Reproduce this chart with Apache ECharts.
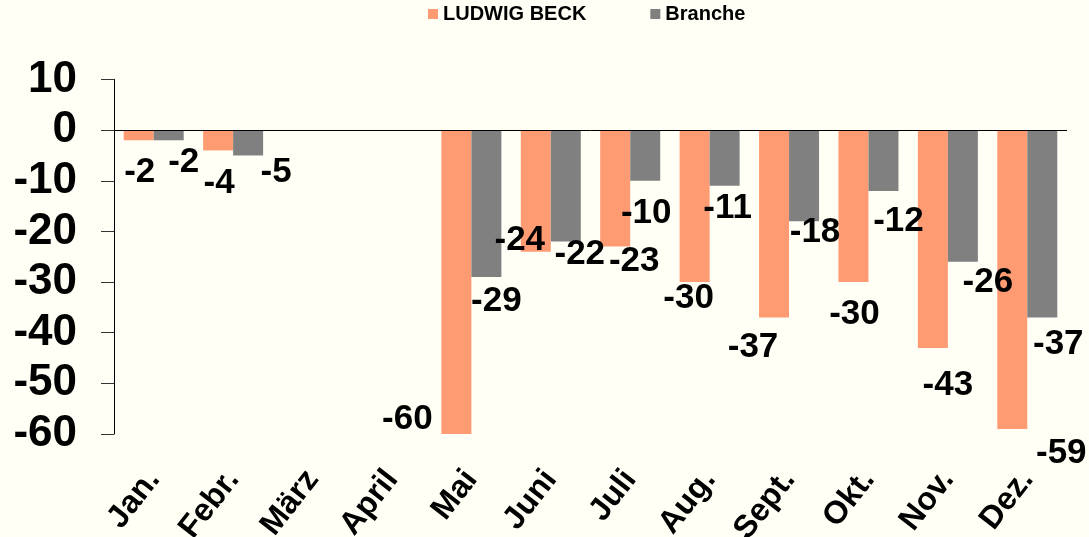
<!DOCTYPE html>
<html>
<head>
<meta charset="utf-8">
<script src="https://cdn.jsdelivr.net/npm/echarts@6/dist/echarts.min.js"></script>
<style>
  html, body { margin: 0; padding: 0; background: #fffff6; }
  #main { width: 1089px; height: 537px; }
</style>
</head>
<body>
<div id="main"></div>
<script>
const months = ['Jan.', 'Febr.', 'März', 'April', 'Mai', 'Juni', 'Juli', 'Aug.', 'Sept.', 'Okt.', 'Nov.', 'Dez.']
const ludwigBeck = [-2, -4, null, null, -60, -24, -23, -30, -37, -30, -43, -59]
const branche = [-2, -5, null, null, -29, -22, -10, -11, -18, -12, -26, -37]
const yMin = -60
const yMax = 10
const yStep = 10

// label nudges (dx, dy from bar end), the labels in the original are placed by hand
const beckNudge = [[1, 32], [1, 33], null, null, [-49, -15], [-16, -11], [19, 15], [-6, 16], [-21, 30], [1, 32], [15, 37], [49, 24]]
const brancheNudge = [[15, 22], [28, 17], null, null, [10, 24], [14, 13], [1, 33], [3, 22], [11, 11], [15, 30], [25, 21], [16, 27]]

const font = "'Liberation Sans', Arial, sans-serif"

const withLabels = (values, nudge) =>
  values.map((v, i) => {
    if (v === null) return '-'
    return { value: v, label: { offset: nudge[i] } }
  })

const barLabel = {
  show: true,
  position: 'bottom',
  distance: 0,
  align: 'center',
  verticalAlign: 'middle',
  color: '#000',
  fontFamily: font,
  fontWeight: 'bold',
  fontSize: 35,
}

let myChart = echarts.init(document.getElementById('main'))
let option = {
  backgroundColor: '#fffff6',
  animation: false,
  legend: {
    left: 428,
    top: 4,
    padding: 0,
    itemWidth: 10,
    itemHeight: 10,
    itemGap: 64,
    icon: 'rect',
    textStyle: { fontFamily: font, fontWeight: 'bold', fontSize: 20, color: '#000' },
    data: ['LUDWIG BECK', 'Branche'],
  },
  grid: {
    left: 114,
    right: 22,
    top: 79.5,
    bottom: 103,
    outerBoundsMode: 'none',
  },
  xAxis: {
    type: 'category',
    data: months,
    axisLine: { show: false, onZero: false },
    axisTick: { show: false },
    axisLabel: {
      rotate: 52,
      margin: 40,
      interval: 0,
      color: '#000',
      fontFamily: font,
      fontWeight: 'bold',
      fontSize: 32,
    },
  },
  yAxis: {
    type: 'value',
    min: yMin,
    max: yMax,
    interval: yStep,
    axisLine: { show: true, lineStyle: { color: '#000', width: 1 } },
    axisTick: { show: true, inside: false, length: 13, lineStyle: { color: '#333' } },
    splitLine: { show: false },
    axisLabel: {
      margin: 37,
      color: '#000',
      fontFamily: font,
      fontWeight: 'bold',
      fontSize: 44,
    },
  },
  series: [
    {
      name: 'LUDWIG BECK',
      type: 'bar',
      barWidth: 30,
      barGap: '0%',
      itemStyle: { color: '#ff9b72' },
      label: barLabel,
      data: withLabels(ludwigBeck, beckNudge),
      markLine: {
        silent: true,
        symbol: ['none', 'none'],
        label: { show: false },
        lineStyle: { color: '#000', width: 1, type: 'solid' },
        data: [{ yAxis: 0 }],
        z: 10,
      },
    },
    {
      name: 'Branche',
      type: 'bar',
      barWidth: 30,
      barGap: '0%',
      itemStyle: { color: '#808080' },
      label: barLabel,
      data: withLabels(branche, brancheNudge),
    },
  ],
}
option && myChart.setOption(option)
</script>
</body>
</html>
